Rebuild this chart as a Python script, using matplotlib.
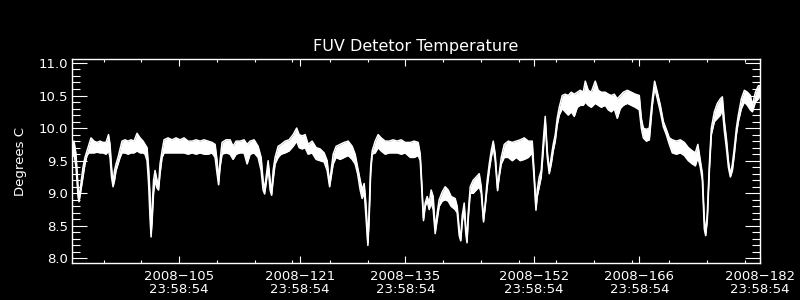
import matplotlib
matplotlib.use('Agg')
import matplotlib.pyplot as plt
from matplotlib.ticker import FixedLocator, MultipleLocator, FormatStrFormatter

# day of year 2008 (fractional), upper / lower edge of the noisy band, deg C
days = [90.80, 91.07, 91.33, 91.60, 91.73, 91.99, 92.26, 92.52, 92.79, 93.05,
        93.32, 93.72, 94.12, 94.51, 94.91, 95.31, 95.64, 95.84, 96.04, 96.24,
        96.44, 96.64, 96.90, 97.17, 97.43, 97.83, 98.23, 98.63, 99.02, 99.42,
        99.82, 100.22, 100.48, 100.75, 100.95, 101.15, 101.28, 101.41, 101.61, 101.81,
        102.07, 102.27, 102.47, 102.74, 103.00, 103.53, 104.06, 104.59, 105.12, 105.65,
        106.19, 106.72, 107.25, 107.78, 108.31, 108.84, 109.37, 109.77, 110.03, 110.23,
        110.43, 110.69, 111.22, 111.76, 112.15, 112.55, 113.08, 113.61, 114.01, 114.41,
        114.94, 115.47, 115.87, 116.13, 116.33, 116.53, 116.80, 117.06, 117.26, 117.46,
        117.72, 118.12, 118.52, 119.05, 119.58, 120.11, 120.58, 120.91, 121.31, 121.70,
        122.10, 122.63, 123.16, 123.69, 124.22, 124.62, 124.95, 125.15, 125.42, 125.81,
        126.34, 126.87, 127.41, 127.94, 128.33, 128.66, 129.00, 129.26, 129.53, 129.79,
        130.02, 130.19, 130.39, 130.59, 130.99, 131.38, 131.78, 132.31, 132.84, 133.37,
        133.90, 134.44, 134.97, 135.63, 136.16, 136.69, 136.96, 137.15, 137.39, 137.62,
        137.88, 138.15, 138.41, 138.68, 138.94, 139.21, 139.47, 139.87, 140.27, 140.67,
        141.06, 141.59, 141.86, 142.13, 142.33, 142.52, 142.79, 142.99, 143.16, 143.32,
        143.59, 143.98, 144.38, 144.78, 145.05, 145.35, 145.58, 145.84, 146.11, 146.37,
        146.64, 146.90, 147.21, 147.43, 147.70, 148.10, 148.63, 149.16, 149.69, 150.22,
        150.75, 151.28, 151.81, 152.07, 152.30, 152.47, 152.74, 153.00, 153.27, 153.53,
        153.80, 154.06, 154.33, 154.59, 154.86, 155.12, 155.39, 155.79, 156.18, 156.58,
        156.98, 157.38, 157.78, 158.17, 158.57, 158.84, 159.23, 159.63, 160.16, 160.56,
        160.96, 161.49, 161.89, 162.29, 162.68, 163.08, 163.48, 163.88, 164.41, 164.94,
        165.47, 166.00, 166.27, 166.53, 166.93, 167.33, 167.73, 168.03, 168.39, 168.79,
        169.19, 169.58, 169.98, 170.38, 170.91, 171.44, 171.97, 172.50, 173.03, 173.43,
        173.76, 174.09, 174.36, 174.62, 174.80, 175.02, 175.29, 175.55, 175.95, 176.35,
        176.75, 177.01, 177.28, 177.54, 177.81, 178.07, 178.34, 178.60, 178.87, 179.13,
        179.53, 179.93, 180.33, 180.72, 180.99, 181.39, 181.79, 182.00]

temp_hi = [9.75, 9.80, 9.60, 9.10, 8.92, 9.15, 9.40, 9.55, 9.65, 9.75,
           9.85, 9.80, 9.78, 9.80, 9.78, 9.78, 9.90, 9.75, 9.40, 9.15,
           9.35, 9.45, 9.55, 9.68, 9.80, 9.82, 9.80, 9.82, 9.80, 9.92,
           9.85, 9.80, 9.75, 9.70, 9.40, 8.95, 8.40, 8.75, 9.20, 9.35,
           9.20, 9.10, 9.45, 9.65, 9.82, 9.85, 9.82, 9.85, 9.82, 9.85,
           9.80, 9.80, 9.82, 9.80, 9.82, 9.80, 9.78, 9.75, 9.50, 9.20,
           9.50, 9.78, 9.82, 9.82, 9.72, 9.80, 9.80, 9.82, 9.75, 9.80,
           9.82, 9.72, 9.55, 9.20, 9.05, 9.25, 9.50, 9.20, 9.00, 9.35,
           9.55, 9.72, 9.75, 9.80, 9.82, 9.90, 10.00, 9.90, 9.88, 9.90,
           9.75, 9.80, 9.70, 9.68, 9.62, 9.50, 9.15, 9.35, 9.60, 9.72,
           9.75, 9.78, 9.80, 9.72, 9.60, 9.40, 9.20, 9.05, 9.15, 8.80,
           8.25, 8.75, 9.40, 9.65, 9.80, 9.90, 9.85, 9.80, 9.80, 9.82,
           9.80, 9.82, 9.78, 9.78, 9.80, 9.78, 9.60, 9.20, 8.62, 8.85,
           8.95, 8.85, 9.05, 8.95, 8.45, 8.70, 8.90, 9.02, 9.10, 9.05,
           8.95, 8.92, 8.80, 8.45, 8.30, 8.65, 8.85, 8.50, 8.27, 8.70,
           9.10, 9.20, 9.25, 9.30, 9.10, 8.60, 8.85, 9.20, 9.45, 9.65,
           9.80, 9.60, 9.08, 9.30, 9.55, 9.75, 9.80, 9.78, 9.80, 9.82,
           9.85, 9.80, 9.80, 9.30, 8.78, 9.05, 9.25, 9.35, 9.80, 10.18,
           9.65, 9.35, 9.55, 9.75, 9.90, 10.15, 10.32, 10.50, 10.52, 10.50,
           10.55, 10.52, 10.55, 10.58, 10.55, 10.72, 10.58, 10.55, 10.72, 10.58,
           10.55, 10.55, 10.52, 10.50, 10.52, 10.45, 10.50, 10.55, 10.58, 10.55,
           10.52, 10.50, 10.15, 10.00, 9.98, 10.00, 10.45, 10.72, 10.55, 10.35,
           10.10, 9.98, 9.85, 9.82, 9.80, 9.82, 9.78, 9.70, 9.65, 9.62,
           9.75, 9.50, 9.30, 8.60, 8.38, 8.70, 9.45, 10.00, 10.25, 10.38,
           10.45, 10.48, 10.10, 9.85, 9.50, 9.28, 9.45, 9.70, 10.00, 10.20,
           10.45, 10.58, 10.55, 10.50, 10.35, 10.55, 10.65, 10.65]

temp_lo = [9.55, 9.60, 9.40, 8.95, 8.87, 9.05, 9.25, 9.45, 9.58, 9.62,
           9.62, 9.62, 9.63, 9.62, 9.62, 9.60, 9.65, 9.55, 9.25, 9.10,
           9.20, 9.35, 9.45, 9.55, 9.62, 9.62, 9.60, 9.62, 9.62, 9.65,
           9.62, 9.62, 9.60, 9.50, 9.15, 8.60, 8.33, 8.55, 9.00, 9.20,
           9.08, 9.05, 9.30, 9.55, 9.62, 9.62, 9.62, 9.62, 9.62, 9.62,
           9.60, 9.62, 9.60, 9.62, 9.60, 9.60, 9.62, 9.55, 9.30, 9.13,
           9.40, 9.60, 9.62, 9.60, 9.52, 9.60, 9.62, 9.62, 9.45, 9.60,
           9.62, 9.55, 9.35, 9.05, 8.99, 9.15, 9.40, 9.05, 8.97, 9.20,
           9.45, 9.55, 9.60, 9.62, 9.65, 9.72, 9.80, 9.70, 9.68, 9.70,
           9.60, 9.62, 9.52, 9.50, 9.48, 9.35, 9.10, 9.25, 9.45, 9.55,
           9.52, 9.55, 9.58, 9.52, 9.45, 9.30, 9.05, 8.92, 9.02, 8.60,
           8.20, 8.60, 9.30, 9.60, 9.62, 9.70, 9.65, 9.60, 9.62, 9.62,
           9.62, 9.60, 9.62, 9.55, 9.55, 9.58, 9.50, 9.10, 8.58, 8.80,
           8.88, 8.75, 8.85, 8.75, 8.38, 8.60, 8.80, 8.88, 8.90, 8.88,
           8.80, 8.75, 8.70, 8.35, 8.27, 8.55, 8.75, 8.40, 8.24, 8.60,
           9.00, 9.00, 9.05, 9.10, 9.00, 8.56, 8.80, 9.10, 9.35, 9.55,
           9.70, 9.50, 9.04, 9.25, 9.45, 9.55, 9.55, 9.50, 9.55, 9.50,
           9.52, 9.55, 9.62, 9.20, 8.74, 8.95, 9.10, 9.25, 9.65, 10.10,
           9.55, 9.30, 9.45, 9.65, 9.80, 10.05, 10.20, 10.30, 10.25, 10.20,
           10.25, 10.18, 10.32, 10.35, 10.35, 10.40, 10.35, 10.32, 10.38, 10.35,
           10.32, 10.35, 10.28, 10.25, 10.30, 10.15, 10.30, 10.35, 10.38, 10.35,
           10.32, 10.28, 10.00, 9.85, 9.80, 9.82, 10.35, 10.62, 10.45, 10.25,
           10.02, 9.90, 9.75, 9.62, 9.60, 9.62, 9.58, 9.50, 9.45, 9.42,
           9.55, 9.40, 9.20, 8.45, 8.35, 8.60, 9.35, 9.90, 10.10, 10.15,
           10.20, 10.30, 9.95, 9.70, 9.40, 9.25, 9.35, 9.60, 9.90, 10.10,
           10.30, 10.40, 10.35, 10.28, 10.25, 10.40, 10.45, 10.50]

major_days = [105, 121, 135, 152, 166, 182]
major_labels = ['2008\u2212%d\n23:58:54' % d for d in major_days]
minor_days = [95, 100, 110, 115, 120, 125, 130, 140, 145, 150, 155, 160,
              165, 170, 175, 180]

fig = plt.figure(figsize=(8, 3), dpi=100, facecolor='black')
ax = fig.add_axes([0.09, 0.1233, 0.86, 0.68])
ax.set_facecolor('black')

ax.fill_between(days, temp_lo, temp_hi, color='white', lw=0)
ax.plot(days, temp_hi, color='white', lw=1.1)
ax.plot(days, temp_lo, color='white', lw=1.1)

ax.set_xlim(90.8, 182.0)
ax.set_ylim(7.93, 11.06)

ax.xaxis.set_major_locator(FixedLocator(major_days))
ax.set_xticklabels(major_labels)
ax.xaxis.set_minor_locator(FixedLocator(minor_days))
ax.yaxis.set_major_locator(MultipleLocator(0.5))
ax.yaxis.set_minor_locator(MultipleLocator(0.1))
ax.yaxis.set_major_formatter(FormatStrFormatter('%.1f'))

for s in ax.spines.values():
    s.set_color('white')
    s.set_linewidth(1.0)

ax.tick_params(which='both', direction='in', colors='white', top=True,
               right=True, width=0.8, labelsize=9.5)
ax.tick_params(axis='x', which='major', length=5, pad=5)
ax.tick_params(axis='x', which='minor', length=2.5)
ax.tick_params(axis='y', which='major', length=11, pad=3)
ax.tick_params(axis='y', which='minor', length=5.5)
for lab in ax.get_xticklabels():
    lab.set_linespacing(1.0)

ax.set_title('FUV Detetor Temperature', color='white', fontsize=11.5, pad=6)
ax.set_ylabel('Degrees C', color='white', fontsize=9.5, labelpad=8)

fig.savefig('out.png', dpi=100, facecolor='black')
